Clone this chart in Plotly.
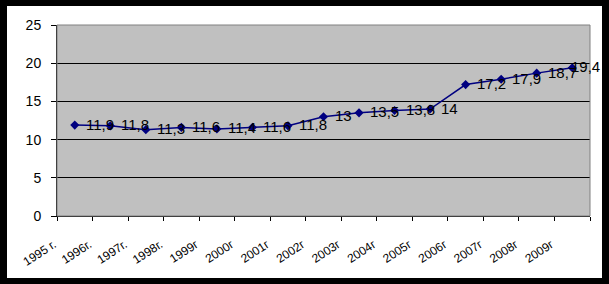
import plotly.graph_objects as go

years = ["1995 г.", "1996г.", "1997г.", "1998г.", "1999г", "2000г", "2001г", "2002г",
         "2003г", "2004г", "2005г", "2006г", "2007г", "2008г", "2009г"]
values = [11.9, 11.8, 11.3, 11.6, 11.4, 11.6, 11.8, 13, 13.5, 13.8, 14, 17.2, 17.9, 18.7, 19.4]
labels = [f"{v:g}".replace(".", ",") for v in values]

W, H = 609, 284
L, R, T, B = 57, 590, 25, 216

fig = go.Figure()
fig.add_trace(go.Scatter(
    x=years, y=values, mode="lines+markers",
    line=dict(color="#000080", width=1.5),
    marker=dict(symbol="diamond", size=7, color="#000080"),
    cliponaxis=False, showlegend=False,
))

n = len(years)
annotations = [
    dict(x=yr, y=v, xref="x", yref="y", text=t, showarrow=False,
         xanchor="left", yanchor="middle",
         xshift=(9 if i < n - 1 else -3), yshift=1,
         font=dict(family="Liberation Sans, Arial", size=15, color="black"))
    for i, (yr, v, t) in enumerate(zip(years, values, labels))
]

pw, ph = R - L, B - T
def px(x):
    return (x - L) / pw
def py(y):
    return (B - y) / ph

shapes = [
    dict(type="rect", xref="paper", yref="paper", x0=0, x1=1, y0=0, y1=1,
         line=dict(color="#808080", width=1), layer="above"),
    dict(type="rect", xref="paper", yref="paper", x0=px(0), x1=px(7), y0=py(H), y1=py(0),
         fillcolor="black", line=dict(width=0), layer="below"),
    dict(type="rect", xref="paper", yref="paper", x0=px(602), x1=px(W), y0=py(H), y1=py(0),
         fillcolor="black", line=dict(width=0), layer="below"),
    dict(type="rect", xref="paper", yref="paper", x0=px(0), x1=px(W), y0=py(6), y1=py(0),
         fillcolor="black", line=dict(width=0), layer="below"),
    dict(type="rect", xref="paper", yref="paper", x0=px(0), x1=px(W), y0=py(H), y1=py(278),
         fillcolor="black", line=dict(width=0), layer="below"),
]

fig.update_layout(
    width=W, height=H, autosize=False,
    margin=dict(l=L, r=W - R, t=T, b=H - B, pad=0),
    paper_bgcolor="white", plot_bgcolor="#C0C0C0",
    font=dict(family="Liberation Sans, Arial", color="black"),
    shapes=shapes, annotations=annotations,
    xaxis=dict(
        type="category", tickson="boundaries", ticks="outside", ticklen=4,
        tickcolor="black", showgrid=False, showline=True, linecolor="black",
        tickangle=-33, tickfont=dict(size=12), zeroline=False,
        ticklabelstandoff=16, ticklabelshift=-21,
        range=[-0.5, n - 0.5],
    ),
    yaxis=dict(
        range=[0, 25], dtick=5, ticks="outside", ticklen=5, tickcolor="black",
        showgrid=True, gridcolor="black", gridwidth=1, showline=True,
        linecolor="black", tickfont=dict(size=14), zeroline=False,
        ticklabelstandoff=7,
    ),
)

fig.write_html("out.html")
